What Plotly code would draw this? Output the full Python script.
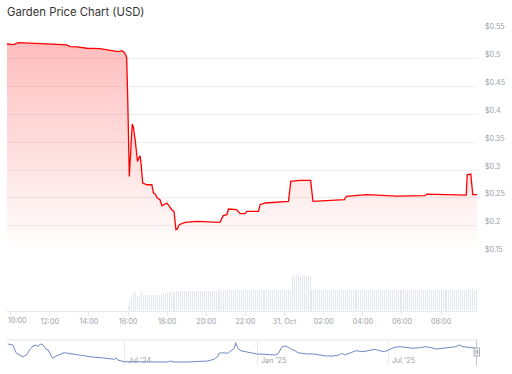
import plotly.graph_objects as go
import pandas as pd

W, H = 512, 374

title_text = "Garden Price Chart (USD)"

price_times = [
    "2025-10-30 09:49", "2025-10-30 10:09", "2025-10-30 10:24", "2025-10-30 11:10",
    "2025-10-30 12:01", "2025-10-30 12:22", "2025-10-30 12:52", "2025-10-30 13:02",
    "2025-10-30 13:23", "2025-10-30 13:54", "2025-10-30 14:34", "2025-10-30 15:05",
    "2025-10-30 15:20", "2025-10-30 15:30", "2025-10-30 15:41", "2025-10-30 15:48",
    "2025-10-30 15:53", "2025-10-30 15:56", "2025-10-30 15:59", "2025-10-30 16:01",
    "2025-10-30 16:04", "2025-10-30 16:13", "2025-10-30 16:16", "2025-10-30 16:22",
    "2025-10-30 16:29", "2025-10-30 16:33", "2025-10-30 16:37", "2025-10-30 16:40",
    "2025-10-30 16:45", "2025-10-30 16:58", "2025-10-30 17:13", "2025-10-30 17:18",
    "2025-10-30 17:23", "2025-10-30 17:30", "2025-10-30 17:38", "2025-10-30 17:44",
    "2025-10-30 17:51", "2025-10-30 17:59", "2025-10-30 18:07", "2025-10-30 18:14",
    "2025-10-30 18:21", "2025-10-30 18:27", "2025-10-30 18:31", "2025-10-30 18:37",
    "2025-10-30 18:45", "2025-10-30 18:55", "2025-10-30 19:31", "2025-10-30 20:11",
    "2025-10-30 20:42", "2025-10-30 20:52", "2025-10-30 21:03", "2025-10-30 21:08",
    "2025-10-30 21:33", "2025-10-30 21:44", "2025-10-30 21:59", "2025-10-30 22:04",
    "2025-10-30 22:40", "2025-10-30 22:45", "2025-10-30 23:00", "2025-10-31 00:12",
    "2025-10-31 00:19", "2025-10-31 00:48", "2025-10-31 01:20", "2025-10-31 01:27",
    "2025-10-31 02:30", "2025-10-31 03:03", "2025-10-31 03:09", "2025-10-31 04:12",
    "2025-10-31 05:44", "2025-10-31 07:11", "2025-10-31 07:16", "2025-10-31 09:17",
    "2025-10-31 09:20", "2025-10-31 09:31", "2025-10-31 09:37", "2025-10-31 09:50",
]
price_values = [
    0.5258, 0.5246, 0.5282, 0.5271,
    0.5271, 0.5253, 0.5241, 0.5210,
    0.5205, 0.5182, 0.5175, 0.5151,
    0.5133, 0.5121, 0.5139, 0.5110,
    0.5062, 0.5003, 0.4316, 0.3720,
    0.2884, 0.3822, 0.3779, 0.3541,
    0.3153, 0.3214, 0.3255, 0.3124,
    0.2766, 0.2736, 0.2736, 0.2587,
    0.2575, 0.2498, 0.2468, 0.2360,
    0.2378, 0.2409, 0.2348, 0.2289,
    0.2258, 0.1931, 0.1944, 0.2020,
    0.2038, 0.2062, 0.2079, 0.2069,
    0.2062, 0.2182, 0.2200, 0.2301,
    0.2289, 0.2217, 0.2217, 0.2258,
    0.2258, 0.2378, 0.2409, 0.2437,
    0.2795, 0.2813, 0.2813, 0.2437,
    0.2449, 0.2467, 0.2527, 0.2557,
    0.2533, 0.2539, 0.2569, 0.2551,
    0.2915, 0.2927, 0.2557, 0.2557,
]

vol_start = "2025-10-30 16:00"
vol_values = [
    5, 10, 14, 19, 19.5, 15, 15, 19, 16.5, 16.5,
    16.5, 16.5, 16.5, 16.5, 16.5, 16.5, 16.5, 18, 18, 18,
    19.5, 19, 19, 19, 19, 20, 20, 20, 20, 20,
    20, 20, 20, 20, 20, 20, 20, 20.5, 20.5, 20.5,
    20.5, 20.5, 20.5, 20.5, 20.5, 20.5, 20.5, 21.5, 21.5, 21.5,
    21.5, 21.5, 21.5, 21.5, 21.5, 21.5, 21.5, 21.5, 21.5, 21.5,
    21.5, 21.5, 21.5, 21.5, 21.5, 21.5, 21.5, 21.5, 21.5, 21.5,
    21.5, 21.5, 21.5, 21.5, 21.5, 21.5, 21.5, 21.5, 21.5, 21.5,
    21.5, 21.5, 21.5, 21.5, 35.5, 35.5, 36.5, 36, 35.5, 36.5,
    36, 35.5, 35.5, 35.5, 21.5, 21.5, 21.5, 21.5, 21.5, 21.5,
    21.5, 21.5, 21.5, 21.5, 21.5, 21.5, 21.5, 21.5, 21.5, 21.5,
    21.5, 21.5, 21.5, 21.5, 21.5, 21.5, 21.5, 21.5, 21.5, 21.5,
    21.5, 21.5, 21.5, 21.5, 21.5, 21.5, 21.5, 21.5, 21.5, 21.5,
    21.5, 21.5, 21.5, 21.5, 21.5, 21.5, 21.5, 21.5, 21.5, 21.5,
    21.5, 21.5, 21.5, 21.5, 21.5, 21.5, 21.5, 21.5, 21.5, 21.5,
    21.5, 21.5, 21.5, 21.5, 21.5, 21.5, 21.5, 21.5, 21.5, 21.5,
    21.5, 21.5, 21.5, 21.5, 21.5, 21.5, 21.5, 21.5, 21.5, 21.5,
    21.5, 21.5, 21.5, 21.5, 22, 22, 22, 21.5, 21.5,
]
vol_times = pd.date_range(vol_start, periods=len(vol_values), freq="6min")

nav_dates = [
    "2024-01-22", "2024-01-29", "2024-02-03", "2024-02-07", "2024-02-12", "2024-02-17",
    "2024-02-21", "2024-02-26", "2024-03-01", "2024-03-04", "2024-03-07", "2024-03-11",
    "2024-03-13", "2024-03-15", "2024-03-18", "2024-03-21", "2024-03-24", "2024-03-29",
    "2024-04-05", "2024-04-09", "2024-04-14", "2024-04-21", "2024-04-30", "2024-05-11",
    "2024-05-21", "2024-05-30", "2024-06-08", "2024-06-17", "2024-06-20", "2024-06-22",
    "2024-07-01", "2024-07-15", "2024-08-02", "2024-08-21", "2024-08-30", "2024-09-03",
    "2024-09-08", "2024-09-26", "2024-10-15", "2024-10-24", "2024-11-02", "2024-11-07",
    "2024-11-09", "2024-11-14", "2024-11-21", "2024-11-28", "2024-11-30", "2024-12-02",
    "2024-12-05", "2024-12-09", "2024-12-16", "2024-12-23", "2024-12-31",
    "2025-01-10", "2025-01-19", "2025-01-26", "2025-01-30", "2025-02-01", "2025-02-04",
    "2025-02-08", "2025-02-13", "2025-02-17", "2025-02-22", "2025-02-26", "2025-03-03",
    "2025-03-10", "2025-03-19", "2025-03-28", "2025-04-06", "2025-04-15", "2025-04-24",
    "2025-04-28", "2025-05-01", "2025-05-08", "2025-05-13", "2025-05-17", "2025-05-27",
    "2025-06-05", "2025-06-12", "2025-06-19", "2025-06-26", "2025-07-03", "2025-07-10",
    "2025-07-17", "2025-07-26", "2025-08-04", "2025-08-13", "2025-08-22", "2025-08-27",
    "2025-09-05", "2025-09-14", "2025-09-23", "2025-10-02", "2025-10-07", "2025-10-12",
    "2025-10-19", "2025-10-26", "2025-10-31",
]
nav_values = [
    0.311, 0.297, 0.180, 0.156, 0.132, 0.156,
    0.226, 0.283, 0.297, 0.273, 0.311, 0.297,
    0.264, 0.236, 0.226, 0.156, 0.109, 0.142,
    0.170, 0.188, 0.180, 0.170, 0.156, 0.132,
    0.123, 0.118, 0.109, 0.095, 0.113, 0.085,
    0.061, 0.061, 0.053, 0.053, 0.057, 0.071,
    0.057, 0.057, 0.061, 0.071, 0.095, 0.132,
    0.180, 0.188, 0.180, 0.226, 0.250, 0.329,
    0.250, 0.216, 0.202, 0.180, 0.170,
    0.166, 0.156, 0.156, 0.180, 0.226, 0.273,
    0.283, 0.264, 0.236, 0.216, 0.188, 0.180,
    0.170, 0.170, 0.156, 0.142, 0.142, 0.156,
    0.180, 0.156, 0.180, 0.202, 0.216, 0.202,
    0.226, 0.236, 0.216, 0.202, 0.236, 0.264,
    0.273, 0.264, 0.250, 0.259, 0.273, 0.264,
    0.240, 0.250, 0.259, 0.273, 0.297, 0.273,
    0.264, 0.250, 0.250,
]

y_tickvals = [0.15, 0.2, 0.25, 0.3, 0.35, 0.4, 0.45, 0.5, 0.55]
y_ticktext = ["$0.15", "$0.2", "$0.25", "$0.3", "$0.35", "$0.4", "$0.45", "$0.5", "$0.55"]

x_tickvals = [
    "2025-10-30 10:00", "2025-10-30 12:00", "2025-10-30 14:00", "2025-10-30 16:00",
    "2025-10-30 18:00", "2025-10-30 20:00", "2025-10-30 22:00", "2025-10-31 00:00",
    "2025-10-31 02:00", "2025-10-31 04:00", "2025-10-31 06:00", "2025-10-31 08:00",
]
x_ticktext = ["10:00", "12:00", "14:00", "16:00", "18:00", "20:00", "22:00",
              "31. Oct", "02:00", "04:00", "06:00", "08:00"]

nav_tickvals = ["2024-07-01", "2025-01-01", "2025-07-01"]
nav_ticktext = ["Jul '24", "Jan '25", "Jul '25"]


def fx(px):
    return px / W


def fy(py):
    return 1 - py / H


FONT = "Inter, Roboto, sans-serif"
LABEL_COLOR = "#9a9ea6"
TICK_SIZE = 7.2
x_dom = [fx(7), fx(477)]
x_range = ["2025-10-30 09:49", "2025-10-31 09:50"]

# the first time label is pushed inside the plot edge, as in the source chart
first_label = x_ticktext[0]
axis_ticktext = [""] + x_ticktext[1:]

fig = go.Figure()

fig.add_trace(go.Scatter(
    x=price_times, y=price_values, mode="lines",
    line=dict(color="#ff0000", width=1.3),
    fill="tozeroy",
    fillgradient=dict(type="vertical",
                      colorscale=[[0, "rgba(255,0,0,0)"], [1, "rgba(255,0,0,0.26)"]],
                      start=0.15, stop=max(price_values)),
    xaxis="x", yaxis="y", hoverinfo="skip", showlegend=False,
))

fig.add_trace(go.Bar(
    x=vol_times, y=vol_values, width=184000,
    marker=dict(color="rgba(226,231,240,0.999)", line=dict(width=0)),
    xaxis="x2", yaxis="y2", hoverinfo="skip", showlegend=False,
))

fig.add_trace(go.Scatter(
    x=nav_dates, y=nav_values, mode="lines",
    line=dict(color="#6f89c6", width=1),
    xaxis="x3", yaxis="y3", hoverinfo="skip", showlegend=False,
))

annotations = [
    dict(text=title_text, xref="paper", yref="paper", x=fx(5), y=fy(12),
         xanchor="left", yanchor="middle", showarrow=False,
         font=dict(family=FONT, size=11.3, color="#333333")),
    dict(text=first_label, xref="paper", yref="paper", x=fx(6), y=fy(320),
         xanchor="left", yanchor="middle", showarrow=False,
         font=dict(family=FONT, size=TICK_SIZE, color=LABEL_COLOR)),
]
for tv, tt in zip(nav_tickvals, nav_ticktext):
    annotations.append(dict(text=tt, xref="x3", yref="paper", x=tv, y=fy(360),
                            xanchor="left", yanchor="middle", xshift=2, showarrow=False,
                            font=dict(family=FONT, size=TICK_SIZE, color=LABEL_COLOR)))

fig.update_layout(
    width=W, height=H,
    margin=dict(l=0, r=0, t=0, b=0, pad=0, autoexpand=False),
    paper_bgcolor="white", plot_bgcolor="white",
    font=dict(family=FONT, color=LABEL_COLOR, size=TICK_SIZE),
    bargap=0,
    xaxis=dict(domain=x_dom, range=x_range, type="date", anchor="y",
               showticklabels=False, showgrid=False, zeroline=False, showline=False),
    yaxis=dict(domain=[fy(253.7), fy(30.5)], range=[0.15, 0.55], side="right",
               anchor="x", tickvals=y_tickvals, ticktext=y_ticktext,
               showgrid=True, gridcolor="#eeeeee", gridwidth=1, zeroline=False,
               ticks="", ticklabelstandoff=7, ticklabelshift=-4,
               tickfont=dict(size=TICK_SIZE, color=LABEL_COLOR, family=FONT)),
    xaxis2=dict(domain=x_dom, range=x_range, type="date", anchor="y2",
                tickvals=x_tickvals, ticktext=axis_ticktext,
                showgrid=False, zeroline=False, showline=True, linecolor="#e6e9ef",
                linewidth=1, ticks="outside", ticklen=4, tickcolor="#e6e9ef",
                tickfont=dict(size=TICK_SIZE, color=LABEL_COLOR, family=FONT)),
    yaxis2=dict(domain=[fy(310.5), fy(270.5)], range=[0, 40], anchor="x2",
                showticklabels=False, showgrid=False, zeroline=False),
    xaxis3=dict(domain=x_dom, range=["2024-01-21", "2025-10-31 09:50"], type="date",
                anchor="y3", tickvals=nav_tickvals, showticklabels=False, ticks="",
                showgrid=True, gridcolor="#ebebeb", zeroline=False, showline=False),
    yaxis3=dict(domain=[fy(365), fy(340)], range=[0.0148, 0.367], anchor="x3",
                showticklabels=False, showgrid=False, zeroline=False),
    annotations=annotations,
    shapes=[
        dict(type="line", xref="paper", yref="paper", x0=fx(7), x1=fx(477),
             y0=fy(340), y1=fy(340), line=dict(color="#e2e5eb", width=1)),
        dict(type="line", xref="paper", yref="paper", x0=fx(476.5), x1=fx(476.5),
             y0=fy(340), y1=fy(366), line=dict(color="#c5cad3", width=1)),
        dict(type="rect", xref="paper", yref="paper", x0=fx(474), x1=fx(479.5),
             y0=fy(356), y1=fy(348), fillcolor="#f2f2f2",
             line=dict(color="#a8acb3", width=1)),
        dict(type="line", xref="paper", yref="paper", x0=fx(476), x1=fx(476),
             y0=fy(350), y1=fy(354), line=dict(color="#a8acb3", width=1)),
        dict(type="line", xref="paper", yref="paper", x0=fx(477.5), x1=fx(477.5),
             y0=fy(350), y1=fy(354), line=dict(color="#a8acb3", width=1)),
    ],
)

fig.write_html(
    "out.html",
    config={"displayModeBar": False},
    post_script="document.documentElement.style.margin='0';document.body.style.margin='0';document.body.style.padding='0';",
)
